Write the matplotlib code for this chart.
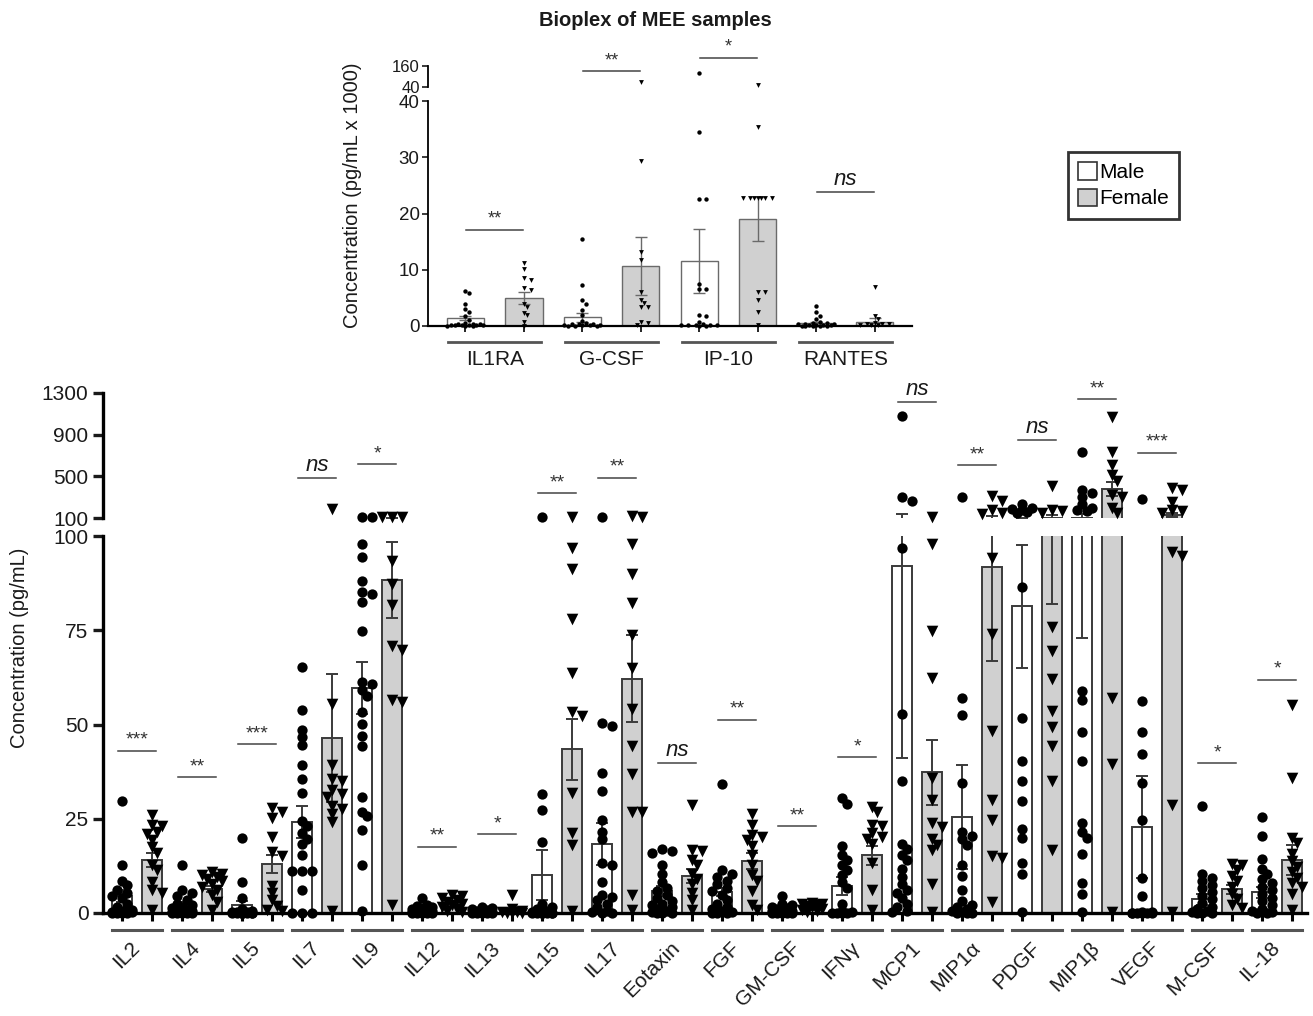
import matplotlib
matplotlib.use("Agg")
import matplotlib.pyplot as plt
import matplotlib.transforms as mtransforms
from matplotlib.patches import Patch
import numpy as np

# ---------------- bottom panel data (pg/mL) ----------------
CATS = ["IL2", "IL4", "IL5", "IL7", "IL9", "IL12", "IL13", "IL15", "IL17", "Eotaxin",
        "FGF", "GM-CSF", "IFNγ", "MCP1", "MIP1α", "PDGF", "MIP1β", "VEGF", "M-CSF", "IL-18"]
MALE_MEAN = [4.5, 2.0, 2.1, 24.2, 59.7, 1.0, 0.6, 10.1, 18.3, 5.8,
             5.6, 1.0, 7.2, 92.0, 25.5, 81.4, 104, 22.9, 3.6, 5.5]
MALE_SEM = [1.6, 0.8, 1.2, 4.3, 6.8, 0.3, 0.2, 6.6, 5.6, 1.3,
            1.1, 0.3, 2.3, 51, 13.8, 16.3, 31, 13.5, 1.4, 1.4]
FEMALE_MEAN = [14.1, 6.4, 13.0, 46.4, 88.3, 2.0, 0.8, 43.4, 62.2, 9.8,
               13.9, 1.0, 15.3, 37.3, 91.8, 104, 378, 125, 6.3, 14.1]
FEMALE_SEM = [1.9, 0.8, 2.3, 17.0, 10.0, 0.5, 0.4, 8.0, 11.5, 1.8,
              2.1, 0.3, 2.6, 8.7, 25.0, 22.0, 65, 20, 1.2, 4.0]

MALE_PTS = [
    [29.7, 12.6, 8.6, 7.3, 6.2, 5.3, 4.6, 3.9, 2.5, 1.5, 0.8, 0.5, 0.3, 0.3, 0.2, 0.2, 0.1, 0.1, 0.1, 0],
    [12.6, 6.2, 5.3, 4.4, 3.4, 2.5, 2.0, 1.6, 1.2, 0.9, 0.6, 0.4, 0.3, 0.2, 0.2, 0.1, 0.1, 0, 0, 0],
    [20, 8.1, 3.9, 1.0, 0.5, 0.3, 0.2, 0.2, 0.1, 0.1, 0, 0, 0, 0, 0, 0, 0, 0],
    [65.3, 53.9, 48.6, 46.7, 44.6, 39.3, 35.5, 31.8, 24.4, 23, 21.1, 19.7, 18.3, 15.5, 11.1, 11.1, 11.1, 6.2, 0, 0, 0],
    [112, 108, 98, 94.3, 88.1, 85.1, 84.6, 82.5, 74.9, 61.3, 60.8, 59.1, 57.6, 53.2, 50.2, 47, 44.2, 30.9, 26.9,
     25.6, 21.9, 12.6, 0.5],
    [3.9, 2.2, 1.8, 1.5, 1.2, 1.0, 0.8, 0.6, 0.5, 0.4, 0.3, 0.2, 0.2, 0.1, 0, 0, 0, 0],
    [1.5, 1.2, 1.0, 0.8, 0.5, 0.3, 0.2, 0.1, 0, 0, 0, 0],
    [105, 31.5, 27.3, 18.8, 2.5, 1.6, 1.0, 0.5, 0.3, 0.2, 0.1, 0, 0, 0, 0, 0, 0, 0],
    [105, 50.4, 49.5, 37.1, 32.3, 24.8, 21.6, 19.7, 13.2, 12.7, 8.1, 4.8, 4.2, 3.4, 2.5, 1.5, 0.5, 0.2, 0, 0],
    [16.9, 16.5, 16.0, 12.7, 10.4, 8.1, 6.7, 5.8, 4.8, 3.9, 3.3, 2.5, 2.0, 1.5, 1.0, 0.5, 0.3, 0.1, 0, 0],
    [34.1, 11.3, 10.4, 9.5, 8.6, 7.6, 6.7, 5.8, 4.8, 3.4, 2.5, 1.5, 1.0, 0.5, 0.2, 0, 0, 0],
    [4.4, 2.5, 2.0, 1.5, 1.2, 1.0, 0.8, 0.6, 0.4, 0.3, 0.2, 0.1, 0, 0, 0, 0],
    [30.4, 29, 17.9, 15.5, 14.1, 12.7, 11.3, 10, 8.1, 6.7, 2.5, 0.5, 0.2, 0, 0, 0, 0],
    [1075, 306, 260, 96.7, 52.9, 35.1, 18.3, 16.9, 15.5, 14.1, 11.8, 9.5, 7.6, 6.2, 5.3, 3.9, 2.5, 1.6, 0.5, 0.2],
    [302, 57.1, 52.5, 34.4, 21.4, 20.4, 19.5, 18, 12.7, 9.8, 6, 3.1, 2.1, 1.5, 1, 0.5, 0.3, 0.1, 0, 0],
    [230, 200, 190, 175, 160, 150, 86.5, 51.8, 40.2, 34.9, 29.6, 22.4, 20, 13.2, 10.3, 0.2],
    [737, 371, 337, 302, 232, 197, 180, 163, 59, 56.6, 47.9, 40.2, 23.8, 21.4, 20, 15.6, 7.9, 5, 0.2],
    [284, 56.3, 47.9, 42.3, 34.4, 24.8, 9.3, 4.5, 0.3, 0.2, 0.1, 0, 0, 0, 0, 0],
    [28.4, 10.3, 9.4, 8.4, 7.4, 6.5, 5.5, 4.5, 3.6, 2.6, 1.6, 1.0, 0.5, 0.2, 0, 0, 0],
    [25.5, 20.4, 14.2, 11.8, 10.3, 8.9, 7.9, 6.9, 6, 5, 4.1, 3.1, 2.1, 1.0, 0.5, 0.2, 0, 0],
]
FEMALE_PTS = [
    [26, 23.4, 23.2, 21.6, 20.9, 19.3, 17.4, 16, 12.7, 11.3, 8.1, 6, 5.3, 0.8],
    [10.9, 10.4, 10.0, 9.5, 9.0, 8.6, 7.6, 6.8, 6.2, 4.8, 3.0, 0.8],
    [27.8, 26.7, 25.3, 20.2, 16.3, 15.1, 7.2, 5.3, 3.4, 1.8, 0.8, 0.5],
    [182, 55.5, 39.3, 35.5, 35.1, 32.5, 31.5, 30.9, 28.3, 27.6, 26.2, 24.2, 0.5],
    [112, 110, 108, 93.4, 87.2, 81.6, 70.9, 69.7, 56.5, 56, 2],
    [4.8, 4.4, 4.0, 3.4, 3.0, 2.5, 2.0, 1.6, 1.0, 0.5, 0.3],
    [4.8, 1.0, 0.5, 0.3, 0.2, 0.1, 0, 0],
    [105, 96.9, 91.3, 78, 63.7, 53.2, 52.3, 31.8, 21.1, 18, 0.5],
    [118, 105, 97.9, 89.8, 82.3, 73.7, 65.1, 54.1, 44.4, 36.9, 26.9, 26.7, 4.8, 0.7],
    [28.7, 16.7, 16.5, 14.1, 12.7, 10.4, 9, 7.6, 5.3, 3.4, 0.7],
    [26.2, 23.4, 20.7, 20.2, 19.3, 17.9, 15.5, 12.7, 10, 8.6, 5.8, 2, 0.7],
    [2.7, 2.5, 2.3, 2.0, 1.8, 1.5, 1.1, 0.8, 0.5, 0.2],
    [28.1, 26.7, 23.4, 23, 21.3, 20.2, 19.7, 18.3, 13.2, 6.2, 0.7],
    [105, 97.8, 74.9, 62.4, 35.9, 30.1, 23.8, 22.9, 19.5, 18, 16.6, 7.7, 0.2],
    [309, 267, 180, 145, 140, 94.2, 74, 48.4, 30.1, 24.8, 15.1, 14.7, 2.9],
    [406, 180, 170, 150, 75.9, 69.6, 62.1, 53.7, 49.4, 44.4, 34.9, 16.6],
    [1067, 737, 608, 511, 458, 319, 302, 197, 145, 57.1, 39.5, 0.2],
    [389, 371, 250, 180, 163, 145, 95.7, 94.7, 28.6, 0.2],
    [12.9, 12.7, 11.3, 9.8, 8.4, 6.9, 5, 3.6, 2.1, 1.2],
    [55.2, 35.7, 20, 18.5, 15.6, 13.7, 12.2, 10.8, 9.3, 7.9, 6.9, 5, 0.7],
]
SIG = ["***", "**", "***", "ns", "*", "**", "*", "**", "**", "ns",
       "**", "**", "*", "ns", "**", "ns", "**", "***", "*", "*"]
SIG_Y = [43, 36, 44.8, 486, 617, 17.6, 20.9, 336, 486, 39.7,
         51.3, 23, 41.3, 1214, 608, 848, 1240, 726, 39.7, 61.9]

# ---------------- top panel data (pg/mL x 1000) ----------------
TOP_CATS = ["IL1RA", "G-CSF", "IP-10", "RANTES"]
TOP_M_MEAN = [1.4, 1.6, 11.5, 0.5]
TOP_M_SEM = [0.4, 0.8, 5.7, 0.3]
TOP_F_MEAN = [5.0, 10.7, 19.0, 0.8]
TOP_F_SEM = [1.0, 5.1, 3.9, 0.6]
TOP_M_PTS = [
    [6.3, 5.9, 4.0, 3.0, 2.5, 1.7, 1.1, 0.5, 0.4, 0.3, 0.3, 0.2, 0.2, 0.2, 0.1, 0.1, 0.1, 0, 0, 0],
    [15.4, 7.3, 4.6, 4.0, 2.8, 2.0, 0.9, 0.5, 0.4, 0.3, 0.3, 0.2, 0.2, 0.1, 0.1, 0, 0, 0],
    [118, 34.5, 22.6, 22.5, 7.5, 6.5, 6.5, 1.9, 1.7, 0.7, 0.3, 0.2, 0.2, 0.2, 0.1, 0.1, 0, 0],
    [3.5, 2.5, 1.8, 1.2, 0.8, 0.6, 0.5, 0.4, 0.3, 0.3, 0.2, 0.2, 0.1, 0.1, 0, 0, 0, 0, 0],
]
TOP_F_PTS = [
    [11.2, 10.2, 8.5, 8.2, 6.7, 6.4, 4.0, 3.4, 2.4, 2.0, 0.8, 0],
    [68, 29.3, 13.2, 11.7, 6.1, 4.7, 4.1, 3.4, 3.3, 0.8, 0.5, 0.2],
    [51.5, 35.4, 22.7, 22.7, 22.7, 22.7, 22.7, 22.7, 22.7, 6.1, 6.0, 4.7, 2.5, 0.2],
    [6.9, 1.8, 1.2, 0.5, 0.4, 0.3, 0.3, 0.2, 0.2, 0.1],
]
TOP_SIG = ["**", "**", "*", "ns"]
TOP_SIG_Y = [17.1, 130, 206, 23.8]

# ---------------- style ----------------
W, H = 1313, 1016
plt.rcParams["font.family"] = ["Liberation Sans", "DejaVu Sans"]
TXT = "#1a1a1a"
GREY = "#d0d0d0"

fig = plt.figure(figsize=(W / 100, H / 100), dpi=100)


def box(x0, y0, x1, y1):
    return [x0 / W, 1 - y1 / H, (x1 - x0) / W, (y1 - y0) / H]


def swarm(vals, px_per_val, px_per_x, mpx, maxk, step, gap):
    # simple deterministic beeswarm: shift a point sideways when it hits an earlier one
    placed, out = [], []
    cands = [0]
    for k in range(1, maxk + 1):
        cands += [k, -k]
    for v in vals:
        y = v * px_per_val
        best, bestd = 0, -1
        for k in cands:
            xo = k * mpx * step
            d = min([np.hypot(xo - px, y - py) for px, py in placed] + [1e9])
            if d >= mpx * gap:
                best = xo
                break
            if d > bestd:
                best, bestd = xo, d
        placed.append((best, y))
        out.append(best / px_per_x)
    return np.array(out)


def draw_group(ax, xs, means, sems, pts, face, marker, ms, lo, hi, pxv, pxx, mpx, maxk,
               step, gap, lw, edge):
    ax.bar(xs, means, width=0.32, color=face, edgecolor=edge, linewidth=lw, zorder=1)
    ax.errorbar(xs, means, yerr=sems, fmt="none", ecolor=edge, elinewidth=lw,
                capsize=4, capthick=lw, zorder=2)
    for xc, p in zip(xs, pts):
        sel = np.array([v for v in p if lo < v <= hi])
        if len(sel) == 0:
            continue
        offs = swarm(sel - lo, pxv, pxx, mpx, maxk, step, gap)
        ax.scatter(xc + offs, sel, s=ms, marker=marker, color="black", linewidths=0,
                   zorder=3, clip_on=False)


def sig(ax, xc, y, label, half, star_fs, ns_fs, color="#444444"):
    ax.plot([xc - half, xc + half], [y, y], color=color, lw=1.1, clip_on=False, zorder=4)
    tr = mtransforms.offset_copy(ax.transData, fig=fig, y=1.5, units="points")
    if label == "ns":
        ax.text(xc, y, "ns", transform=tr, style="italic", fontsize=ns_fs, ha="center",
                va="bottom", color=TXT, clip_on=False)
    else:
        ax.text(xc, y, label, transform=tr, fontsize=star_fs, ha="center", va="bottom",
                color="#333333", clip_on=False)


# ================= bottom panel =================
ax_lo = fig.add_axes(box(103, 536, 1307, 913))
ax_hi = fig.add_axes(box(103, 393, 1307, 518), sharex=ax_lo)
x = np.arange(len(CATS))
xm, xf = x - 0.25, x + 0.25

for ax, lo, hi, pxv in [(ax_lo, -1, 100, 3.77), (ax_hi, 100, 5000, 0.1042)]:
    draw_group(ax, xm, MALE_MEAN, MALE_SEM, MALE_PTS, "white", "o", 55, lo, hi, pxv, 60, 10,
               2, 0.5, 0.7, 1.4, "#3a3a3a")
    draw_group(ax, xf, FEMALE_MEAN, FEMALE_SEM, FEMALE_PTS, GREY, "v", 70, lo, hi, pxv, 60, 10,
               2, 0.5, 0.7, 1.4, "#3a3a3a")

ax_lo.set_xlim(-0.567, 19.5)
ax_lo.set_ylim(0, 100)
ax_hi.set_ylim(100, 1300)
ax_lo.set_yticks([0, 25, 50, 75, 100])
ax_hi.set_yticks([100, 500, 900, 1300])
for ax in (ax_lo, ax_hi):
    for s in ("top", "right"):
        ax.spines[s].set_visible(False)
    ax.spines["left"].set_linewidth(2.4)
    ax.tick_params(axis="y", direction="out", length=7, width=2.4, labelsize=15, colors=TXT)
    ax.set_facecolor("none")
ax_hi.spines["bottom"].set_visible(False)
ax_hi.tick_params(axis="x", which="both", bottom=False, labelbottom=False)
ax_lo.spines["bottom"].set_linewidth(2.4)
ax_lo.set_xticks(np.concatenate([xm, xf]))
ax_lo.tick_params(axis="x", which="major", direction="out", length=6, width=2.2, labelbottom=False)
ax_lo.set_xticks(x, minor=True)
ax_lo.set_xticklabels(CATS, minor=True, rotation=45, ha="right", va="center",
                      rotation_mode="anchor", fontsize=15, color=TXT)
ax_lo.tick_params(axis="x", which="minor", length=0, pad=23)

tb = ax_lo.get_xaxis_transform()
for xc in x:
    ax_lo.plot([xc - 0.42, xc + 0.42], [-0.045, -0.045], transform=tb, color="#555555",
               lw=2.2, clip_on=False)

for xc, lab, y in zip(x, SIG, SIG_Y):
    sig(ax_hi if y > 100 else ax_lo, xc, y, lab, 0.32, 14, 16)

fig.text(20 / W, 1 - 648 / H, "Concentration (pg/mL)", rotation=90, ha="center", va="center",
         fontsize=14.5, color=TXT)

# ================= top panel =================
bx_lo = fig.add_axes(box(428, 101, 912, 326))
bx_hi = fig.add_axes(box(428, 66, 912, 87), sharex=bx_lo)
tx = np.arange(len(TOP_CATS))
txm, txf = tx - 0.25, tx + 0.25

for ax, lo, hi, pxv in [(bx_lo, -1, 40, 5.625), (bx_hi, 40, 1000, 0.175)]:
    draw_group(ax, txm, TOP_M_MEAN, TOP_M_SEM, TOP_M_PTS, "white", "o", 10, lo, hi, pxv, 117, 4.5,
               5, 0.8, 0.9, 1.0, "#6a6a6a")
    draw_group(ax, txf, TOP_F_MEAN, TOP_F_SEM, TOP_F_PTS, GREY, "v", 12, lo, hi, pxv, 117, 4.5,
               5, 0.8, 0.9, 1.0, "#6a6a6a")

bx_lo.set_xlim(-0.57, 3.57)
bx_lo.set_ylim(0, 40)
bx_hi.set_ylim(40, 160)
bx_lo.set_yticks([0, 10, 20, 30, 40])
bx_hi.set_yticks([40, 160])
for ax in (bx_lo, bx_hi):
    for s in ("top", "right"):
        ax.spines[s].set_visible(False)
    ax.spines["left"].set_linewidth(1.3)
    ax.tick_params(axis="y", direction="out", length=4, width=1.2, labelsize=13.5, colors=TXT, pad=2)
    ax.set_facecolor("none")
bx_hi.tick_params(axis="y", labelsize=12, pad=2)
bx_hi.spines["bottom"].set_visible(False)
bx_hi.tick_params(axis="x", which="both", bottom=False, labelbottom=False)
bx_lo.spines["bottom"].set_linewidth(1.6)
bx_lo.set_xticks(np.concatenate([txm, txf]))
bx_lo.tick_params(axis="x", which="major", direction="out", length=4, width=1.2, labelbottom=False)
bx_lo.set_xticks(tx, minor=True)
bx_lo.set_xticklabels(TOP_CATS, minor=True, fontsize=15, color=TXT)
bx_lo.tick_params(axis="x", which="minor", length=0, pad=17)

tb2 = bx_lo.get_xaxis_transform()
for xc in tx:
    bx_lo.plot([xc - 0.4, xc + 0.4], [-0.071, -0.071], transform=tb2, color="#555555",
               lw=2.0, clip_on=False)

for xc, lab, y in zip(tx, TOP_SIG, TOP_SIG_Y):
    sig(bx_hi if y > 40 else bx_lo, xc, y, lab, 0.245, 13, 16)

fig.text(352 / W, 1 - 195 / H, "Concentration (pg/mL x 1000)", rotation=90, ha="center",
         va="center", fontsize=14.5, color=TXT)
fig.text(655 / W, 1 - 21 / H, "Bioplex of MEE samples", ha="center", va="center",
         fontsize=14.5, fontweight="bold", color=TXT)

handles = [Patch(facecolor="white", edgecolor="#333333", lw=1.2),
           Patch(facecolor=GREY, edgecolor="#333333", lw=1.2)]
leg = fig.legend(handles, ["Male", "Female"], loc="upper left",
                 bbox_to_anchor=(1068 / W, 1 - 152 / H), fontsize=15, frameon=True,
                 fancybox=False, handlelength=0.9, handleheight=0.9, handletextpad=0.1,
                 borderpad=0.5, labelspacing=0.3, borderaxespad=0)
leg.get_frame().set_edgecolor("black")
leg.get_frame().set_linewidth(2)

fig.savefig("out.png", dpi=100)
